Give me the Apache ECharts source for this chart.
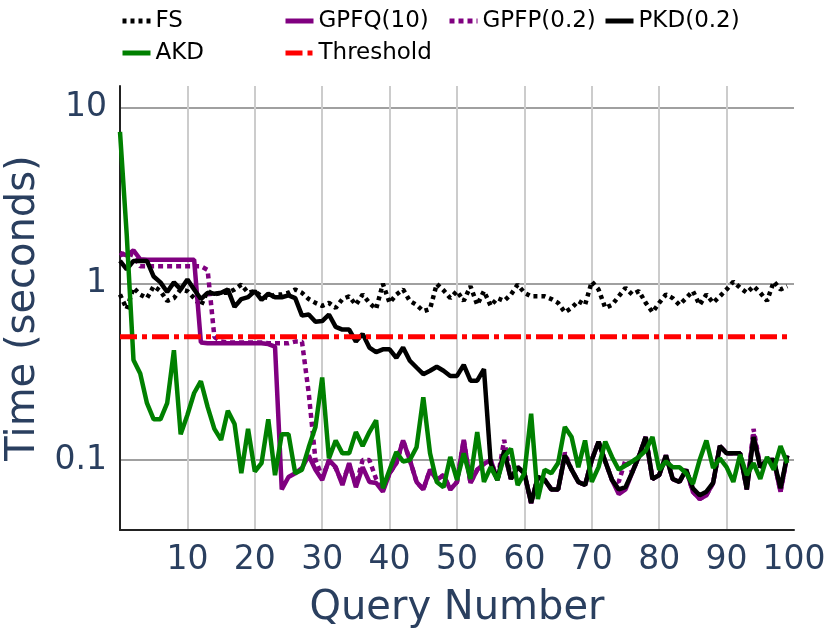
<!DOCTYPE html>
<html>
<head>
    <meta charset="utf-8">
    <script src="https://cdn.jsdelivr.net/npm/echarts@6/dist/echarts.min.js"></script>
</head>
<body style="margin:0">
    <div id="main" style="width:827px;height:629px;"></div>
    <script type="text/javascript">
        // values, one per query (query 0..99)
        var fsTimes = [
            0.87, 0.72, 0.95, 0.87, 0.83, 0.97, 0.91, 0.80, 0.83, 0.93,
            0.91, 0.83, 0.75, 0.91, 0.87, 0.89, 0.89, 0.93, 0.99, 0.89,
            0.91, 0.85, 0.83, 0.87, 0.87, 0.89, 0.93, 0.89, 0.82, 0.78,
            0.75, 0.78, 0.73, 0.82, 0.85, 0.76, 0.87, 0.78, 0.72, 1.00,
            0.78, 0.87, 0.93, 0.80, 0.76, 0.70, 0.72, 1.00, 0.92, 0.83,
            0.91, 0.80, 0.97, 0.76, 0.91, 0.75, 0.83, 0.80, 0.87, 0.99,
            0.89, 0.85, 0.85, 0.85, 0.82, 0.78, 0.69, 0.73, 0.80, 0.76,
            1.03, 0.93, 0.73, 0.76, 0.85, 0.95, 0.87, 0.91, 0.78, 0.69,
            0.78, 0.87, 0.83, 0.76, 0.83, 0.91, 0.76, 0.87, 0.78, 0.85,
            0.93, 1.03, 0.95, 0.89, 0.97, 0.89, 0.80, 1.03, 0.93, 0.97
        ];
        var gpfqTimes = [
            1.50, 1.45, 1.55, 1.38, 1.37, 1.37, 1.37, 1.37, 1.37, 1.37,
            1.37, 1.37, 0.465, 0.46, 0.46, 0.46, 0.46, 0.46, 0.46, 0.46,
            0.46, 0.46, 0.455, 0.44, 0.068, 0.080, 0.084, 0.090, 0.106, 0.088,
            0.077, 0.100, 0.091, 0.072, 0.096, 0.070, 0.091, 0.075, 0.074, 0.066,
            0.084, 0.096, 0.129, 0.100, 0.075, 0.068, 0.088, 0.077, 0.082, 0.068,
            0.075, 0.130, 0.074, 0.088, 0.095, 0.100, 0.077, 0.110, 0.078, 0.091,
            0.084, 0.057, 0.080, 0.077, 0.068, 0.068, 0.106, 0.088, 0.075, 0.072,
            0.100, 0.127, 0.098, 0.077, 0.064, 0.068, 0.085, 0.105, 0.135, 0.078,
            0.082, 0.106, 0.078, 0.075, 0.088, 0.066, 0.060, 0.063, 0.074, 0.120,
            0.109, 0.109, 0.109, 0.068, 0.140, 0.091, 0.100, 0.100, 0.066, 0.106
        ];
        var gpfpTimes = [
            1.45, 1.50, 1.45, 1.26, 1.26, 1.26, 1.26, 1.26, 1.26, 1.26,
            1.26, 1.26, 1.26, 1.20, 0.50, 0.47, 0.465, 0.465, 0.465, 0.465,
            0.465, 0.465, 0.46, 0.46, 0.46, 0.46, 0.47, 0.47, 0.24, 0.100,
            0.080, 0.098, 0.090, 0.074, 0.094, 0.072, 0.100, 0.100, 0.078, 0.068,
            0.084, 0.096, 0.129, 0.100, 0.075, 0.068, 0.088, 0.077, 0.082, 0.068,
            0.075, 0.130, 0.074, 0.088, 0.095, 0.100, 0.077, 0.130, 0.078, 0.091,
            0.084, 0.057, 0.080, 0.077, 0.068, 0.068, 0.110, 0.088, 0.075, 0.072,
            0.100, 0.127, 0.098, 0.077, 0.075, 0.100, 0.085, 0.105, 0.135, 0.078,
            0.082, 0.106, 0.078, 0.075, 0.088, 0.066, 0.060, 0.063, 0.074, 0.120,
            0.109, 0.109, 0.109, 0.068, 0.150, 0.091, 0.100, 0.100, 0.066, 0.106
        ];
        var pkdTimes = [
            1.35, 1.21, 1.35, 1.35, 1.35, 1.10, 1.02, 0.90, 1.02, 0.93,
            1.06, 0.93, 0.82, 0.89, 0.88, 0.89, 0.93, 0.74, 0.82, 0.84,
            0.91, 0.81, 0.88, 0.84, 0.84, 0.86, 0.83, 0.66, 0.67, 0.61,
            0.615, 0.67, 0.57, 0.55, 0.55, 0.47, 0.52, 0.435, 0.41, 0.425,
            0.425, 0.38, 0.435, 0.366, 0.335, 0.307, 0.321, 0.338, 0.321, 0.30,
            0.30, 0.347, 0.282, 0.282, 0.328, 0.096, 0.077, 0.113, 0.078, 0.091,
            0.084, 0.057, 0.080, 0.077, 0.068, 0.068, 0.106, 0.088, 0.075, 0.072,
            0.100, 0.127, 0.098, 0.077, 0.068, 0.070, 0.085, 0.105, 0.135, 0.078,
            0.082, 0.106, 0.078, 0.075, 0.088, 0.069, 0.063, 0.066, 0.074, 0.120,
            0.109, 0.109, 0.109, 0.068, 0.135, 0.091, 0.100, 0.100, 0.069, 0.106
        ];
        var akdTimes = [
            7.3, 1.9, 0.37, 0.31, 0.21, 0.17, 0.17, 0.21, 0.42, 0.14,
            0.18, 0.24, 0.28, 0.20, 0.15, 0.13, 0.19, 0.16, 0.084, 0.15,
            0.086, 0.096, 0.17, 0.082, 0.14, 0.14, 0.084, 0.088, 0.118, 0.154,
            0.294, 0.102, 0.129, 0.109, 0.109, 0.144, 0.120, 0.144, 0.168, 0.069,
            0.088, 0.111, 0.098, 0.100, 0.118, 0.227, 0.109, 0.075, 0.070, 0.104,
            0.077, 0.109, 0.078, 0.144, 0.075, 0.091, 0.077, 0.104, 0.116, 0.072,
            0.084, 0.183, 0.060, 0.088, 0.084, 0.096, 0.154, 0.135, 0.091, 0.129,
            0.075, 0.091, 0.127, 0.104, 0.088, 0.093, 0.098, 0.104, 0.113, 0.135,
            0.088, 0.098, 0.091, 0.091, 0.084, 0.073, 0.100, 0.129, 0.090, 0.102,
            0.091, 0.075, 0.107, 0.082, 0.096, 0.078, 0.104, 0.088, 0.120, 0.096
        ];
        var thresholdValue = 0.5;
        var thresholdRange = [0, 99];

        var textColor = '#2a3f5f';
        var font = 'DejaVu Sans';

        function toPoints(values) {
            return values.map(function (v, i) { return [i, v]; });
        }

        function legendFor(name, left, top) {
            return {
                data: [name],
                left: left,
                top: top,
                itemWidth: 28,
                itemHeight: 14,
                itemGap: 0,
                padding: 0,
                itemStyle: { opacity: 0 },
                lineStyle: { width: 5 },
                textStyle: { fontFamily: font, fontSize: 23, color: '#000', lineHeight: 28 }
            };
        }

        var myChart = echarts.init(document.getElementById('main'));
        var option = {
            animation: false,
            legend: [
                legendFor('FS', 120, 7),
                legendFor('GPFQ(10)', 283, 7),
                legendFor('GPFP(0.2)', 447, 7),
                legendFor('PKD(0.2)', 603, 7),
                legendFor('AKD', 120, 39),
                legendFor('Threshold', 283, 39)
            ],
            grid: { left: 120, right: 33, top: 86, bottom: 99, outerBoundsMode: 'none' },
            xAxis: {
                type: 'value',
                min: 0,
                max: 100,
                interval: 10,
                name: 'Query Number',
                nameLocation: 'middle',
                nameGap: 59,
                nameTextStyle: { fontFamily: font, fontSize: 40, color: textColor },
                axisLine: { lineStyle: { color: '#222', width: 2 } },
                axisTick: { show: false },
                axisLabel: {
                    showMinLabel: false,
                    margin: 14,
                    fontFamily: font, fontSize: 33, color: textColor
                },
                splitLine: {
                    show: true,
                    showMinLine: false,
                    showMaxLine: false,
                    lineStyle: { color: '#cccccc', width: 2 }
                }
            },
            yAxis: {
                type: 'log',
                logBase: 10,
                min: 0.04,
                max: 13.3,
                name: 'Time (seconds)',
                nameLocation: 'middle',
                nameGap: 62,
                nameTextStyle: { fontFamily: font, fontSize: 40, color: textColor },
                axisLine: { show: true, lineStyle: { color: '#222', width: 2 } },
                axisTick: { show: false },
                axisLabel: {
                    showMinLabel: false,
                    showMaxLabel: false,
                    margin: 13,
                    fontFamily: font, fontSize: 33, color: textColor
                },
                splitLine: {
                    show: true,
                    showMinLine: false,
                    showMaxLine: false,
                    lineStyle: { color: '#a0a0a0', width: 2 }
                }
            },
            series: [
                {
                    name: 'FS', type: 'line', symbol: 'none',
                    data: toPoints(fsTimes),
                    lineStyle: { color: '#000', width: 4.5, type: [4, 4] },
                    itemStyle: { color: '#000' }
                },
                {
                    name: 'GPFQ(10)', type: 'line', symbol: 'none',
                    data: toPoints(gpfqTimes),
                    lineStyle: { color: '#800080', width: 4.5 },
                    itemStyle: { color: '#800080' }
                },
                {
                    name: 'GPFP(0.2)', type: 'line', symbol: 'none',
                    data: toPoints(gpfpTimes),
                    lineStyle: { color: '#800080', width: 4.5, type: [5, 4] },
                    itemStyle: { color: '#800080' }
                },
                {
                    name: 'PKD(0.2)', type: 'line', symbol: 'none',
                    data: toPoints(pkdTimes),
                    lineStyle: { color: '#000', width: 4.5 },
                    itemStyle: { color: '#000' }
                },
                {
                    name: 'AKD', type: 'line', symbol: 'none',
                    data: toPoints(akdTimes),
                    lineStyle: { color: '#008000', width: 4.5 },
                    itemStyle: { color: '#008000' }
                },
                {
                    name: 'Threshold', type: 'line', symbol: 'none',
                    data: thresholdRange.map(function (x) { return [x, thresholdValue]; }),
                    lineStyle: { color: '#ff0000', width: 5, type: [17, 5, 5, 5] },
                    itemStyle: { color: '#ff0000' }
                }
            ]
        };
        myChart.setOption(option);
    </script>
</body>
</html>
